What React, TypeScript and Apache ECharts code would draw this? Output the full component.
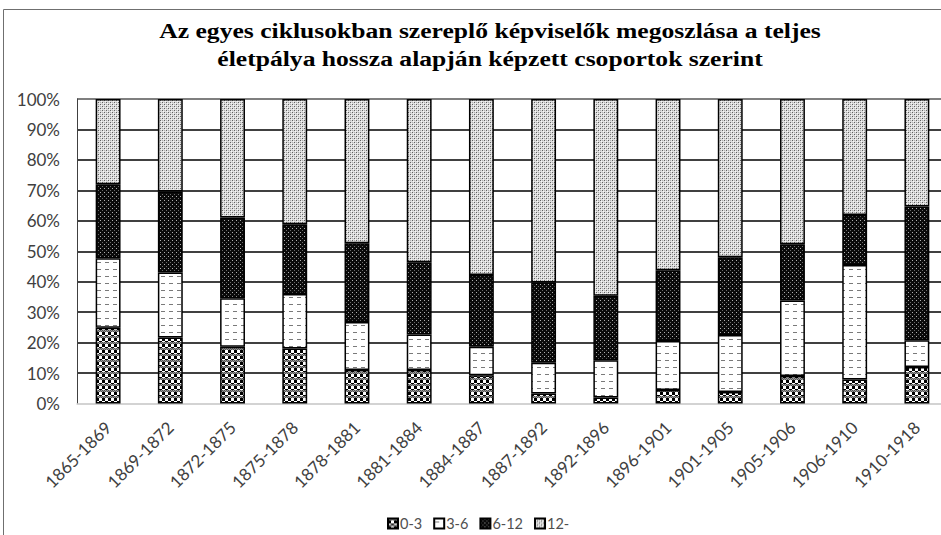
import React, { useEffect, useRef } from "react";
import * as echarts from "echarts";

const categories = ["1865-1869", "1869-1872", "1872-1875", "1875-1878", "1878-1881", "1881-1884", "1884-1887", "1887-1892", "1892-1896", "1896-1901", "1901-1905", "1905-1906", "1906-1910", "1910-1918"];
const seriesNames = ["0-3", "3-6", "6-12", "12-"];
const g0_3 = [24.9, 21.7, 18.6, 18.1, 11.0, 11.0, 9.3, 3.3, 2.0, 4.4, 3.8, 9.0, 7.9, 12.0];
const g3_6 = [22.8, 21.3, 16.0, 17.9, 15.8, 11.7, 9.3, 10.1, 12.2, 16.1, 18.7, 24.8, 37.6, 8.8];
const g6_12 = [24.3, 26.6, 26.5, 22.9, 25.8, 23.7, 23.6, 26.3, 21.2, 23.3, 25.5, 18.5, 16.4, 43.9];
const g12 = [28.0, 30.4, 38.9, 41.1, 47.4, 53.6, 57.8, 60.3, 64.6, 56.2, 52.0, 47.7, 38.1, 35.3];
const yTicks = [0, 10, 20, 30, 40, 50, 60, 70, 80, 90, 100];
const titleLines = ["Az egyes ciklusokban szereplő képviselők megoszlása a teljes", "életpálya hossza alapján képzett csoportok szerint"];

function tile(w: number, h: number, bg: string, px: [number, number, number, number, string][]) {
  const c = document.createElement("canvas");
  c.width = w;
  c.height = h;
  const ctx = c.getContext("2d")!;
  ctx.fillStyle = bg;
  ctx.fillRect(0, 0, w, h);
  for (const [x, y, pw, ph, col] of px) {
    ctx.fillStyle = col;
    ctx.fillRect(x, y, pw, ph);
  }
  return c;
}

function makePatterns() {
  // 0-3: plaid / checker
  const p1 = tile(6, 6, "#ffffff", [
    [0, 0, 6, 2, "#9a9a9a"],
    [0, 0, 1, 1, "#555"], [2, 0, 1, 1, "#555"], [4, 0, 1, 1, "#555"],
    [1, 1, 1, 1, "#555"], [3, 1, 1, 1, "#555"], [5, 1, 1, 1, "#555"],
    [0, 2, 3, 3, "#000"],
    [3, 5, 3, 1, "#000"],
  ]);
  // 3-6: white with short grey dashes
  const p2 = tile(8, 7, "#ffffff", [[1, 3, 4, 1, "#7a7a7a"]]);
  // 6-12: black with small dots
  const p3 = tile(4, 4, "#0a0a0a", [[0, 0, 1, 1, "#b0b0b0"], [2, 2, 1, 1, "#6a6a6a"]]);
  // 12-: light grey fine dots
  const p4 = tile(4, 4, "#dedede", [
    [0, 0, 1, 1, "#606060"], [2, 2, 1, 1, "#606060"],
    [1, 1, 1, 1, "#f6f6f6"], [3, 3, 1, 1, "#f6f6f6"],
    [2, 0, 1, 1, "#b0b0b0"], [0, 2, 1, 1, "#b0b0b0"],
  ]);
  return [p1, p2, p3, p4];
}

export default function App() {
  const ref = useRef<HTMLDivElement>(null);
  useEffect(() => {
    if (!ref.current) return;
    const chart = echarts.init(ref.current, undefined, { renderer: "svg" });
    const pats = makePatterns();
    const datasets = [g0_3, g3_6, g6_12, g12];
    const splitColors = yTicks.map((_, i) => (i === 0 ? "#d0d0d0" : i === yTicks.length - 1 ? "#555" : "#000"));
    chart.setOption({
      animation: false,
      backgroundColor: "#ffffff",
      graphic: [
        {
          type: "rect",
          shape: { x: 3.5, y: 9.5, width: 1100, height: 700 },
          style: { fill: "none", stroke: "#6f6f6f", lineWidth: 1 },
          silent: true,
        },
        {
          type: "text",
          x: 490,
          y: 17,
          scaleX: 1.22,
          style: {
            text: titleLines.join("\n"),
            x: 0,
            y: 0,
            textAlign: "center",
            font: "bold 21px 'Liberation Serif', serif",
            lineHeight: 28,
            fill: "#000",
          },
        },
      ],
      legend: {
        left: 382,
        top: 511,
        itemWidth: 10,
        itemHeight: 10,
        itemGap: 11,
        icon: "rect",
        textStyle: { fontFamily: "Lato", fontSize: 14.5, color: "#505050", padding: [0, 0, 0, -3] },
        data: seriesNames,
      },
      grid: { left: 77, right: 12, top: 99, bottom: 131.5, containLabel: false },
      xAxis: {
        type: "category",
        data: categories,
        axisTick: { show: false },
        axisLine: { lineStyle: { color: "#d0d0d0", width: 1.5 } },
        axisLabel: {
          rotate: 45,
          interval: 0,
          margin: 21,
          fontFamily: "Lato",
          fontSize: 17,
          color: "#404040",
        },
      },
      yAxis: {
        type: "value",
        min: 0,
        max: 100,
        interval: 10,
        axisLine: { show: true, lineStyle: { color: "#404040", width: 1 } },
        axisTick: { show: false },
        axisLabel: { formatter: "{value}%", margin: 17, fontFamily: "Lato", fontSize: 17, color: "#404040" },
        splitLine: { show: true, lineStyle: { color: splitColors, width: 1.5 } },
      },
      series: seriesNames.map((name, i) => ({
        name,
        type: "bar",
        stack: "total",
        barWidth: "40%",
        data: datasets[i],
        itemStyle: {
          color: { image: pats[i], repeat: "repeat" },
          borderColor: "#000",
          borderWidth: 1.5,
        },
      })),
    });
    return () => chart.dispose();
  }, []);
  return (
    <div style={{ position: "absolute", left: 0, top: 0, width: 941, height: 535, overflow: "hidden", background: "#fff" }}>
      <div ref={ref} style={{ width: 960, height: 535 }} />
    </div>
  );
}
